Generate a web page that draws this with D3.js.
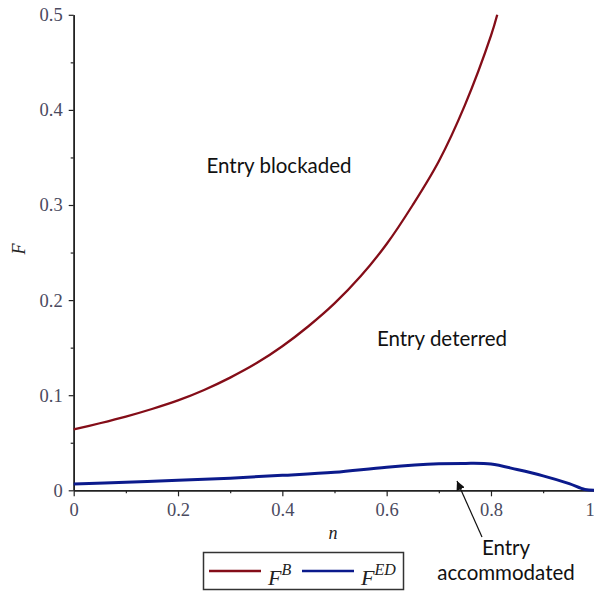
<!DOCTYPE html>
<html>
<head>
<meta charset="utf-8">
<script src="https://cdn.jsdelivr.net/npm/d3@7"></script>
<style>
  body { margin: 0; background: #fff; }
  svg { display: block; }
</style>
</head>
<body>
<svg id="canvas" width="594" height="593"></svg>
<script>
// F^B curve (entry blockaded boundary)
let nB = [0, 0.05, 0.1, 0.15, 0.2, 0.25, 0.3, 0.35, 0.4, 0.45, 0.5, 0.55, 0.6, 0.65, 0.7, 0.75, 0.8, 0.812];
let valuesB = [0.064, 0.0705, 0.0775, 0.0855, 0.0945, 0.1055, 0.1185, 0.1335, 0.1515, 0.1725, 0.1965, 0.225, 0.259, 0.300, 0.346, 0.405, 0.478, 0.5];

// F^ED curve (entry deterred boundary)
let nED = [0, 0.1, 0.2, 0.3, 0.4, 0.5, 0.6, 0.7, 0.75, 0.8, 0.85, 0.9, 0.95, 0.98, 1];
let valuesED = [0.0065, 0.0085, 0.0105, 0.0128, 0.0157, 0.019, 0.0243, 0.0278, 0.0283, 0.0276, 0.0218, 0.0152, 0.007, 0.0008, 0];

let xTicks = [0, 0.2, 0.4, 0.6, 0.8, 1];
let xMinorTicks = [0.1, 0.3, 0.5, 0.7, 0.9];
let yTicks = [0, 0.1, 0.2, 0.3, 0.4, 0.5];
let yMinorTicks = [0.05, 0.15, 0.25, 0.35, 0.45];

let colorB = '#840d18';
let colorED = '#0b1a8c';

let canvas = d3.select('#canvas');

let xScale = d3.scaleLinear().domain([0, 1]).range([73.7, 595.3]);
let yScale = d3.scaleLinear().domain([0, 0.5]).range([490.3, 14.8]);

let tickFormat = (d) => d === 0 ? '0' : (d === 1 ? '1' : d3.format('.1f')(d));

// axes
let xAxis = canvas.append('g')
  .attr('transform', 'translate(0,' + yScale(0) + ')')
  .call(d3.axisBottom(xScale).tickValues(xTicks).tickFormat(tickFormat).tickSize(6).tickPadding(7).tickSizeOuter(0));
canvas.append('g')
  .attr('transform', 'translate(0,' + yScale(0) + ')')
  .call(d3.axisBottom(xScale).tickValues(xMinorTicks).tickFormat('').tickSize(3).tickSizeOuter(0));

// last label sits on the right edge, keep it inside the picture
xAxis.selectAll('.tick text')
  .filter((d) => d === 1)
  .attr('text-anchor', 'end')
  .attr('dx', '-1');

let yAxis = canvas.append('g')
  .attr('transform', 'translate(' + xScale(0) + ',0)')
  .call(d3.axisLeft(yScale).tickValues(yTicks).tickFormat(tickFormat).tickSize(5).tickPadding(6).tickSizeOuter(0));
canvas.append('g')
  .attr('transform', 'translate(' + xScale(0) + ',0)')
  .call(d3.axisLeft(yScale).tickValues(yMinorTicks).tickFormat('').tickSize(3).tickSizeOuter(0));

canvas.selectAll('.domain').attr('stroke', '#222').attr('stroke-width', 1.5);
canvas.selectAll('.tick line').attr('stroke', '#222').attr('stroke-width', 1.2);
canvas.selectAll('.tick text')
  .attr('font-family', '"Liberation Serif", serif')
  .attr('font-size', '18.5px')
  .attr('fill', '#4a4a60');

// axis titles
canvas.append('text')
  .attr('transform', 'translate(25,249) rotate(-90)')
  .attr('text-anchor', 'middle')
  .attr('font-family', '"Liberation Serif", serif')
  .attr('font-style', 'italic')
  .attr('font-size', '18px')
  .attr('fill', '#222')
  .text('F');

canvas.append('text')
  .attr('x', 333)
  .attr('y', 539)
  .attr('text-anchor', 'middle')
  .attr('font-family', '"Liberation Serif", serif')
  .attr('font-style', 'italic')
  .attr('font-size', '18px')
  .attr('fill', '#222')
  .text('n');

// curves
let line = d3.line()
  .x((d) => xScale(d[0]))
  .y((d) => yScale(d[1]))
  .curve(d3.curveCatmullRom.alpha(0.5));

canvas.append('path')
  .datum(d3.zip(nED, valuesED))
  .attr('d', line)
  .attr('fill', 'none')
  .attr('stroke', colorED)
  .attr('stroke-width', 3);

canvas.append('path')
  .datum(d3.zip(nB, valuesB))
  .attr('d', line)
  .attr('fill', 'none')
  .attr('stroke', colorB)
  .attr('stroke-width', 2.3);

// region labels
let addLabel = (x, y, txt) => {
  canvas.append('text')
    .attr('x', x)
    .attr('y', y)
    .attr('text-anchor', 'middle')
    .attr('font-family', 'Lato, sans-serif')
    .attr('font-size', '20.5px')
    .attr('fill', '#111')
    .text(txt);
};
addLabel(279, 173, 'Entry blockaded');
addLabel(442, 346, 'Entry deterred');
addLabel(506, 555, 'Entry');
addLabel(506, 580, 'accommodated');

// arrow
canvas.append('defs').append('marker')
  .attr('id', 'head')
  .attr('viewBox', '0 0 10 10')
  .attr('refX', 10)
  .attr('refY', 5)
  .attr('markerWidth', 9)
  .attr('markerHeight', 9)
  .attr('markerUnits', 'userSpaceOnUse')
  .attr('orient', 'auto')
  .append('path')
  .attr('d', 'M0,0 L10,5 L0,10 z')
  .attr('fill', '#111');

canvas.append('line')
  .attr('x1', 482)
  .attr('y1', 537)
  .attr('x2', 457)
  .attr('y2', 481)
  .attr('stroke', '#111')
  .attr('stroke-width', 1.2)
  .attr('marker-end', 'url(#head)');

// legend
let legend = canvas.append('g');
legend.append('rect')
  .attr('x', 203.5)
  .attr('y', 552.5)
  .attr('width', 200)
  .attr('height', 37)
  .attr('fill', '#fff')
  .attr('stroke', '#333')
  .attr('stroke-width', 1.5);

let legendItems = [
  { x: 209, color: colorB, sup: 'B' },
  { x: 302, color: colorED, sup: 'ED' }
];
legendItems.forEach((item) => {
  legend.append('line')
    .attr('x1', item.x)
    .attr('x2', item.x + 52)
    .attr('y1', 571)
    .attr('y2', 571)
    .attr('stroke', item.color)
    .attr('stroke-width', 2.5);
  let t = legend.append('text')
    .attr('x', item.x + 59)
    .attr('y', 585)
    .attr('font-family', '"Liberation Serif", serif')
    .attr('font-style', 'italic')
    .attr('font-size', '22px')
    .attr('fill', '#222');
  t.append('tspan').text('F');
  t.append('tspan')
    .attr('dy', -10)
    .attr('font-size', '16px')
    .text(item.sup);
});
</script>
</body>
</html>
